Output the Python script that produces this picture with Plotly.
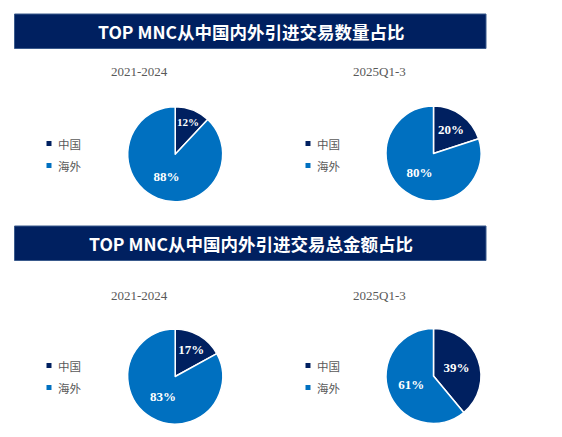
import plotly.graph_objects as go

W, H = 562, 437
OFF = 8  # page body margin in the browser

labels = ["中国", "海外"]
colors = ["#002060", "#0070C0"]
period_titles = ["2021-2024", "2025Q1-3"]
count_2021_2024 = [12, 88]
count_2025 = [20, 80]
amount_2021_2024 = [17, 83]
amount_2025 = [39, 61]
section_titles = ["TOP MNC从中国内外引进交易数量占比", "TOP MNC从中国内外引进交易总金额占比"]

def px_x(x):
    return (x - OFF) / W

def px_y(y):
    return 1 - (y - OFF) / H

fig = go.Figure()

pies = [
    (count_2021_2024, 175.2, 154.2),
    (count_2025, 433.5, 153.5),
    (amount_2021_2024, 175.2, 376.5),
    (amount_2025, 433.5, 376.0),
]
R = 47.5
for vals, cx, cy in pies:
    fig.add_trace(go.Pie(
        labels=labels, values=vals, sort=False, direction="clockwise", rotation=0,
        marker=dict(colors=colors, line=dict(color="white", width=1.5)),
        texttemplate="%{value}%", textposition="inside", insidetextorientation="horizontal",
        textfont=dict(family="Liberation Serif", size=13, color="white", weight="bold"),
        domain=dict(x=[px_x(cx - R), px_x(cx + R)], y=[px_y(cy + R), px_y(cy - R)]),
        showlegend=False, hoverinfo="label+percent",
    ))

shapes = []
annotations = []
# section banners
for i, (t, y0) in enumerate(zip(section_titles, [14, 226])):
    shapes.append(dict(type="rect", xref="paper", yref="paper",
                       x0=px_x(14.5), x1=px_x(486), y0=px_y(y0), y1=px_y(y0 + 34.5),
                       fillcolor="#002060", line=dict(color="#3a5a8c", width=1)))
    annotations.append(dict(text=f"<b>{t}</b>", x=px_x(251), y=px_y(y0 + 17.5),
                            xref="paper", yref="paper", showarrow=False,
                            xanchor="center", yanchor="middle",
                            font=dict(family="Noto Sans CJK SC", size=17.5, color="white")))
# period subtitles
for row_y in [72, 295]:
    for t, cx in zip(period_titles, [139, 379]):
        annotations.append(dict(text=t, x=px_x(cx), y=px_y(row_y), xref="paper", yref="paper",
                                showarrow=False, xanchor="center", yanchor="middle",
                                font=dict(family="Liberation Serif", size=13, color="#595959")))
# legends
for lx, ly in [(49, 143.5), (308, 143.5), (49, 365.5), (308, 365.5)]:
    for k, (lab, col) in enumerate(zip(labels, colors)):
        yy = ly + k * 22
        shapes.append(dict(type="rect", xref="paper", yref="paper",
                           x0=px_x(lx - 2.5), x1=px_x(lx + 2.5), y0=px_y(yy + 2.5), y1=px_y(yy - 2.5),
                           fillcolor=col, line=dict(width=0)))
        annotations.append(dict(text=lab, x=px_x(lx + 7), y=px_y(yy), xref="paper", yref="paper",
                                showarrow=False, xanchor="left", yanchor="middle",
                                font=dict(family="Noto Sans CJK SC", size=11.5, color="#595959")))

fig.update_layout(width=W, height=H, margin=dict(l=0, r=0, t=0, b=0),
                  paper_bgcolor="white", plot_bgcolor="white",
                  shapes=shapes, annotations=annotations)

fig.write_html("out.html")
